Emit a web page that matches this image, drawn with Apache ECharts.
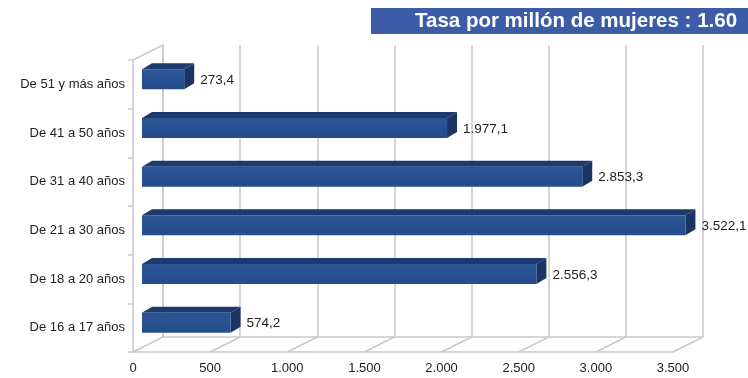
<!DOCTYPE html>
<html><head><meta charset="utf-8">
<script src="https://cdn.jsdelivr.net/npm/echarts@6/dist/echarts.min.js"></script>
<style>html,body{margin:0;padding:0;background:#fff}#c{width:748px;height:378px}</style>
</head><body><div id="c"></div>
<script>
const categories = ['De 51 y más años','De 41 a 50 años','De 31 a 40 años','De 21 a 30 años','De 18 a 20 años','De 16 a 17 años'];
const values = [273.4, 1977.1, 2853.3, 3522.1, 2556.3, 574.2];
const xTicks = [0, 500, 1000, 1500, 2000, 2500, 3000, 3500];
const titleText = 'Tasa por millón de mujeres : 1.60';

function fmtEs(v, dec) {
  let s = v.toFixed(dec);
  let parts = s.split('.');
  parts[0] = parts[0].replace(/\B(?=(\d{3})+(?!\d))/g, '.');
  return parts.length > 1 ? parts[0] + ',' + parts[1] : parts[0];
}

const DX = 30, DY = 15;      // wall depth offset
const BDX = 10, BDY = 6;     // bar depth offset
const gridCol = '#c9c9c9';
const font = 'Liberation Sans, Arial, sans-serif';

const chart = echarts.init(document.getElementById('c'));
chart.setOption({
  animation: false,
  backgroundColor: '#fff',
  graphic: [
    { type: 'rect', shape: { x: 371, y: 8, width: 380, height: 26 }, style: { fill: '#3c5ca8' } },
    { type: 'text', x: 415, y: 21, style: { text: titleText, fill: '#fff', font: 'bold 20.5px ' + font, verticalAlign: 'middle' } }
  ],
  grid: [
    { left: 163, top: 45, width: 540, height: 292 },
    { left: 142, top: 55, width: 540, height: 292 },
    { left: 133, top: 60, width: 540, height: 292 }
  ],
  xAxis: [
    { gridIndex: 0, type: 'value', min: 0, max: 3500, interval: 500,
      axisLabel: { show: false }, axisTick: { show: false },
      axisLine: { show: true, lineStyle: { color: gridCol, width: 1.5 } },
      splitLine: { show: true, lineStyle: { color: gridCol, width: 1.5 } } },
    { gridIndex: 1, type: 'value', min: 0, max: 3500, interval: 500, show: false },
    { gridIndex: 2, type: 'value', min: 0, max: 3500, interval: 500,
      axisLabel: { show: true, margin: 10, color: '#222', fontSize: 13, fontFamily: font, formatter: v => fmtEs(v, 0) },
      axisTick: { show: false },
      axisLine: { show: true, lineStyle: { color: gridCol, width: 1.5 } },
      splitLine: { show: false } }
  ],
  yAxis: [
    { gridIndex: 0, type: 'category', data: categories, inverse: true,
      axisLabel: { show: false }, axisTick: { show: false },
      axisLine: { show: true, lineStyle: { color: gridCol, width: 1.5 } }, splitLine: { show: false } },
    { gridIndex: 1, type: 'category', data: categories, inverse: true, show: false },
    { gridIndex: 2, type: 'category', data: categories, inverse: true,
      axisLabel: { show: true, margin: 8, color: '#222', fontSize: 13, fontFamily: font },
      axisTick: { show: true, length: 5, lineStyle: { color: gridCol, width: 1.5 } },
      axisLine: { show: true, lineStyle: { color: gridCol, width: 1.5 } }, splitLine: { show: false } }
  ],
  series: [
    { // floor diagonals and top-left wall edge
      type: 'custom', xAxisIndex: 2, yAxisIndex: 2, silent: true, clip: false,
      data: xTicks.map(v => [v, 0]).concat([[0, 1]]),
      renderItem: function (params, api) {
        const cs = params.coordSys;
        const x = api.coord([api.value(0), 0])[0];
        const y = api.value(1) === 1 ? cs.y : cs.y + cs.height;
        return { type: 'line', shape: { x1: x, y1: y, x2: x + DX, y2: y - DY },
          style: { stroke: gridCol, lineWidth: 1.5 } };
      }
    },
    { // 3D bars
      type: 'custom', xAxisIndex: 1, yAxisIndex: 1, clip: false,
      data: values.map((v, i) => [v, i]),
      renderItem: function (params, api) {
        const v = api.value(0), i = api.value(1);
        const p0 = api.coord([0, i]), p1 = api.coord([v, i]);
        const h = api.size([0, 1])[1] * 0.41;
        const x0 = p0[0], x1 = p1[0], yt = p1[1] - h / 2, yb = p1[1] + h / 2;
        return { type: 'group', children: [
          { type: 'polygon', shape: { points: [[x0, yt], [x0 + BDX, yt - BDY], [x1 + BDX, yt - BDY], [x1, yt]] },
            style: { fill: '#1d3a6e' } },
          { type: 'polygon', shape: { points: [[x1, yt], [x1 + BDX, yt - BDY], [x1 + BDX, yb - BDY], [x1, yb]] },
            style: { fill: '#1a3464' } },
          { type: 'rect', shape: { x: x0, y: yt, width: x1 - x0, height: h },
            style: { fill: new echarts.graphic.LinearGradient(0, 0, 0, 1, [
              { offset: 0, color: '#2b5596' }, { offset: 1, color: '#254c8b' }]) } },
          { type: 'text', x: x1 + BDX + 6, y: p1[1] + 1,
            style: { text: fmtEs(v, 1), fill: '#222', font: '13.5px ' + font, verticalAlign: 'middle', align: 'left' } }
        ] };
      }
    }
  ]
});
</script></body></html>
